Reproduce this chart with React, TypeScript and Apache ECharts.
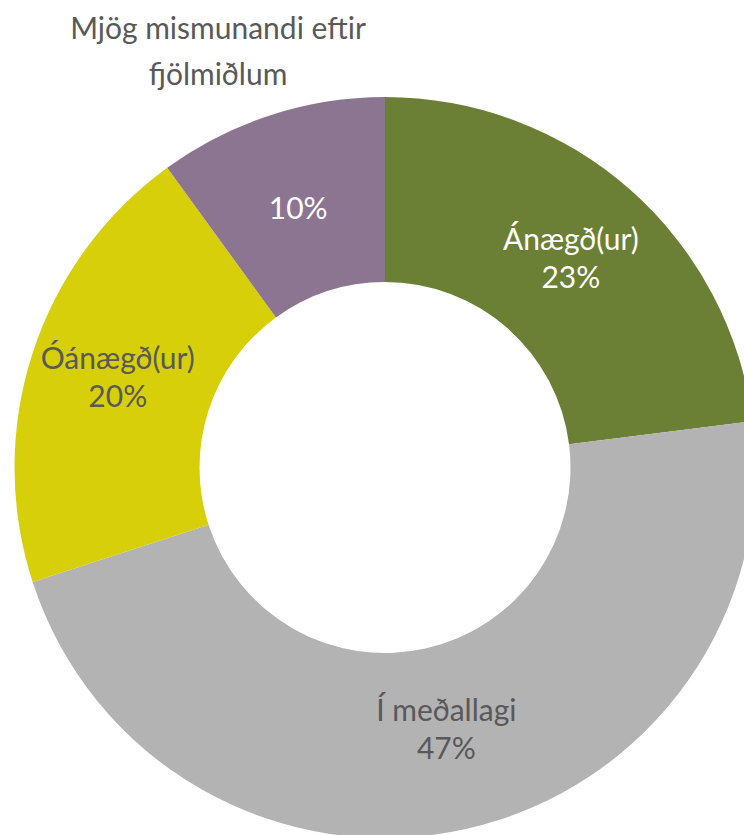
import React, { useEffect, useRef } from "react";
import * as echarts from "echarts";

const categories = ["Ánægð(ur)", "Í meðallagi", "Óánægð(ur)", "Mjög mismunandi eftir fjölmiðlum"];
const values = [23, 47, 20, 10];
const colors = ["#6b7f35", "#b3b3b3", "#d6cf0a", "#8c7590"];
const labelColors = ["#ffffff", "#595959", "#595959", "#ffffff"];
const labelShiftY = [0, -14, -5, 7];
const outsideTitleLines = ["Mjög mismunandi eftir", "fjölmiðlum"];

const FONT = "Lato, 'Open Sans', sans-serif";

export default function App() {
  const ref = useRef<HTMLDivElement>(null);
  useEffect(() => {
    document.body.style.margin = "0";
    if (!ref.current) return;
    const chart = echarts.init(ref.current, null, { renderer: "svg" });
    const data = categories.map((name, i) => ({
      name,
      value: values[i],
      itemStyle: { color: colors[i] },
      label: {
        color: labelColors[i],
        formatter: i === 3 ? "{d}%" : "{b}\n{d}%",
      },
    }));
    chart.setOption({
      animation: false,
      backgroundColor: "#ffffff",
      graphic: outsideTitleLines.map((t, i) => ({
        type: "text",
        x: 218,
        y: 27 + i * 46,
        style: {
          text: t,
          fill: "#595959",
          font: `30px ${FONT}`,
          align: "center",
          verticalAlign: "middle",
        },
      })),
      series: [
        {
          type: "pie",
          center: [385, 467.5],
          radius: [185.5, 370.5],
          startAngle: 90,
          clockwise: true,
          avoidLabelOverlap: false,
          label: {
            show: true,
            position: "inside",
            fontFamily: FONT,
            fontSize: 30,
            lineHeight: 38,
          },
          labelLayout: (params: any) => ({ dy: labelShiftY[params.dataIndex] || 0 }),
          labelLine: { show: false },
          emphasis: { disabled: true },
          data,
        },
      ],
    });
    return () => chart.dispose();
  }, []);
  return <div ref={ref} style={{ width: 744, height: 835 }} />;
}
